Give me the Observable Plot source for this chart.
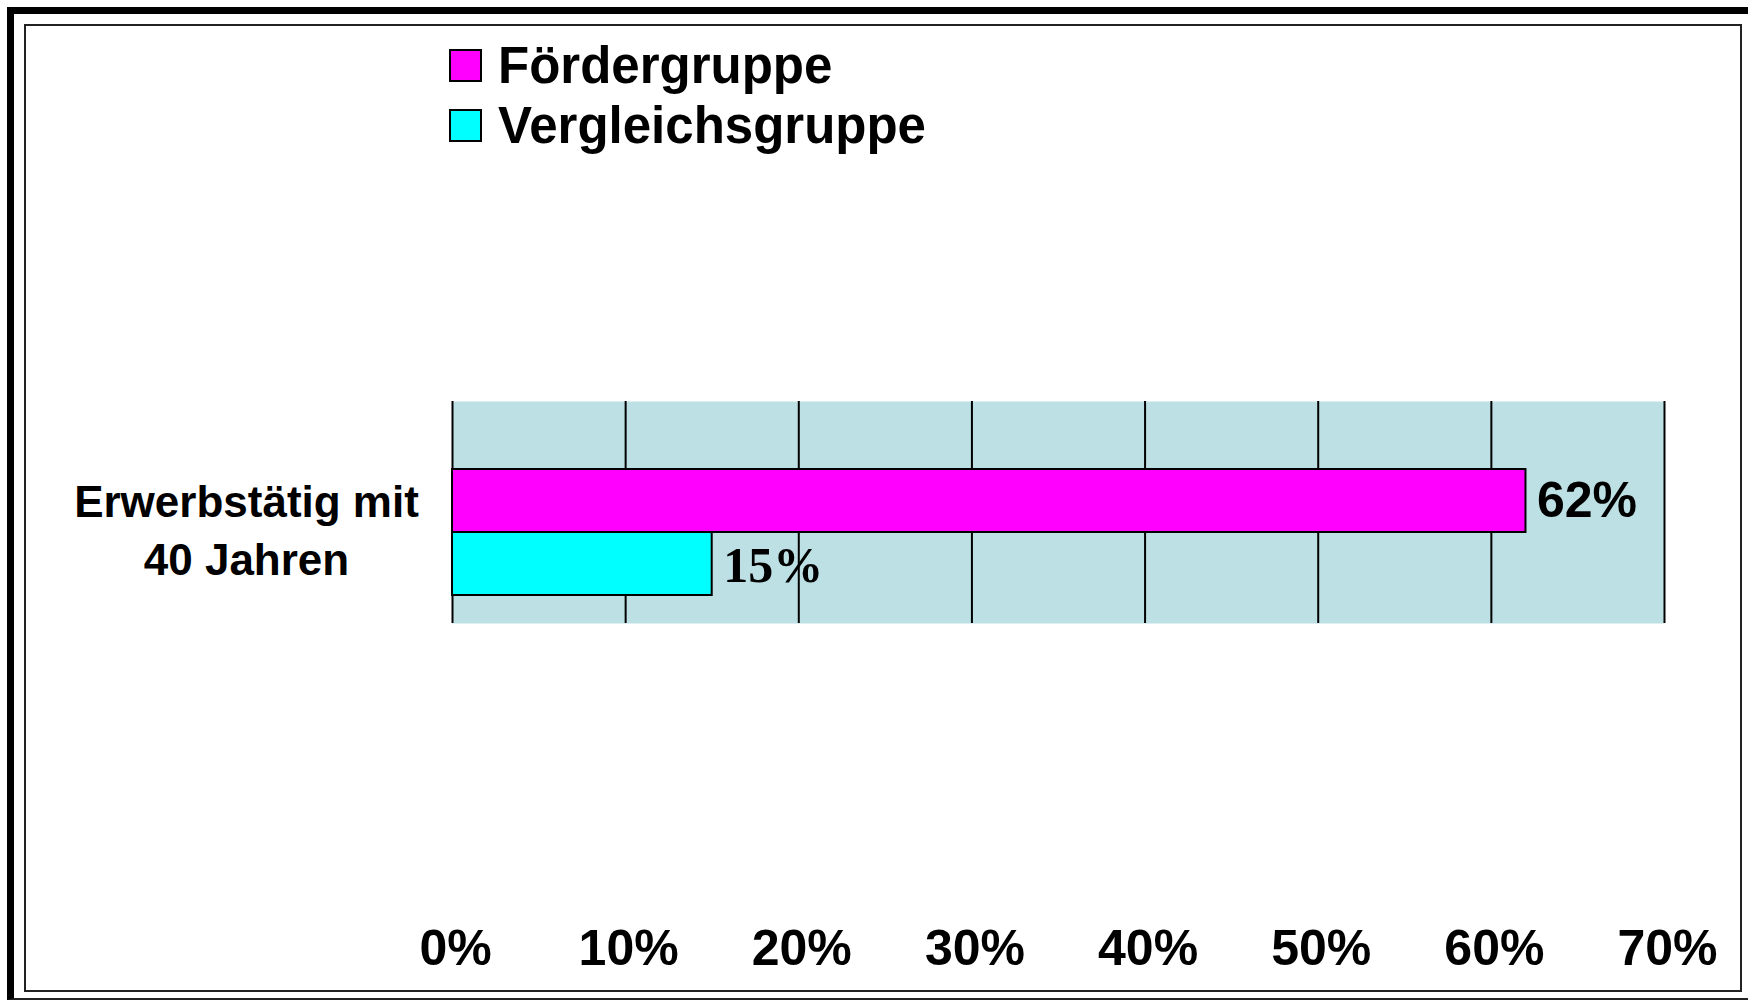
<!DOCTYPE html>
<html>
<head>
<meta charset="utf-8">
<script src="https://cdn.jsdelivr.net/npm/d3@7"></script>
<script src="https://cdn.jsdelivr.net/npm/@observablehq/plot@0.6"></script>
<style>
  html, body { margin: 0; padding: 0; background: #fff; }
  #page { position: relative; width: 1748px; height: 1003px; overflow: hidden; background: #fff;
          font-family: "Liberation Sans", Arial, sans-serif; }
  #outer { position: absolute; left: 7px; top: 7px; width: 1760px; height: 993px; box-sizing: border-box;
           border-left: 7px solid #000; border-top: 7px solid #000; border-bottom: 2px solid #222; }
  #inner { position: absolute; left: 24px; top: 24px; width: 1718px; height: 968px; box-sizing: border-box;
           border: 2px solid #222; }
  #legend { position: absolute; left: 449px; top: 35px; }
  .item { display: flex; align-items: center; height: 60px; }
  .sw { width: 33px; height: 33px; box-sizing: border-box; border: 2px solid #000; margin-right: 16px; }
  .lab { font-size: 51px; font-weight: bold; color: #000; line-height: 1; }
  #chart { position: absolute; left: 0; top: 150px; }
</style>
</head>
<body>
<div id="page">
  <div id="outer"></div>
  <div id="inner"></div>
  <div id="legend"></div>
  <div id="chart"></div>
</div>
<script>
const categories = ["Erwerbstätig mit\n40 Jahren"];
const series = ["Fördergruppe", "Vergleichsgruppe"];
const values = [0.62, 0.15];
const colors = ["#ff00ff", "#00ffff"];
const ticks = [0, 0.1, 0.2, 0.3, 0.4, 0.5, 0.6, 0.7];

const rows = series.map((s, i) => ({category: categories[0], series: s, value: values[i]}));

// legend
const legend = document.getElementById("legend");
series.forEach((s, i) => {
  const it = document.createElement("div");
  it.className = "item";
  const sw = document.createElement("div");
  sw.className = "sw";
  sw.style.background = colors[i];
  const lab = document.createElement("div");
  lab.className = "lab";
  lab.textContent = s;
  it.appendChild(sw); it.appendChild(lab);
  legend.appendChild(it);
});

const pct = d3.format(".0%");
const top0 = 150;
const chart = Plot.plot({
  width: 1748,
  height: 830,
  marginTop: 401 - top0,
  marginBottom: 830 - (623 - top0),
  marginLeft: 452,
  marginRight: 1748 - 1664,
  style: {fontFamily: "'Liberation Sans', Arial, sans-serif", background: "transparent", overflow: "visible"},
  x: {domain: [0, 0.7], axis: null},
  y: {domain: series, range: [469 - top0, 595 - top0], padding: 0, axis: null},
  color: {domain: series, range: colors},
  marks: [
    Plot.frame({fill: "#bce0e3", stroke: null}),
    Plot.ruleX(ticks, {stroke: "#000", strokeWidth: 2}),
    Plot.barX(rows, {x: "value", y: "series", fill: "series", stroke: "#000", strokeWidth: 2}),
    Plot.text(rows.filter(d => d.series === series[0]), {
      x: "value", y: "series", text: d => pct(d.value), textAnchor: "start", dx: 11,
      fontSize: 50, fontWeight: "bold", fill: "#000", fontFamily: "'Liberation Sans', Arial, sans-serif"
    }),
    Plot.text(rows.filter(d => d.series === series[1]), {
      x: "value", y: "series", text: d => pct(d.value), textAnchor: "start", dx: 11, dy: 2,
      fontSize: 50, fontWeight: "bold", fill: "#000", fontFamily: "'Liberation Serif', 'Times New Roman', serif"
    }),
    Plot.text(categories, {
      frameAnchor: "left", text: d => d, dx: 246 - 452, dy: 15, textAnchor: "middle",
      lineHeight: 1.32, fontSize: 44, fontWeight: "bold", fill: "#000"
    }),
    Plot.axisX(ticks, {
      anchor: "bottom", tickSize: 0, tickPadding: 306, fontSize: 50, fontWeight: "bold",
      tickFormat: pct, fill: "#000", label: null, dx: 3
    })
  ]
});
document.getElementById("chart").appendChild(chart);
</script>
</body>
</html>
